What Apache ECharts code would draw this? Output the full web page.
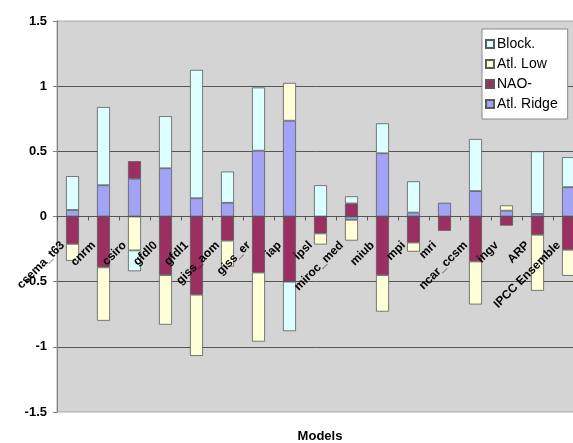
<!DOCTYPE html>
<html>
<head>
<meta charset="utf-8">
<script src="https://cdn.jsdelivr.net/npm/echarts@6/dist/echarts.min.js"></script>
<style>
html,body{margin:0;padding:0;background:#fff;}
#c{width:573px;height:443px;}
</style>
</head>
<body>
<div id="c"></div>
<script>
var categories = ['csema_t63','cnrm','csiro','gfdl0','gfdl1','giss_aom','giss_er','iap','ipsl','miroc_med','miub','mpi','mri','ncar_ccsm','ingv','ARP','IPCC Ensemble'];
var atlRidge = [0.05, 0.24, 0.29, 0.37, 0.14, 0.105, 0.505, 0.735, null, -0.025, 0.485, 0.03, 0.105, 0.195, 0.045, 0.02, 0.225];
var naoMinus = [-0.21, -0.39, 0.135, -0.45, -0.60, -0.185, -0.43, -0.50, -0.13, 0.10, -0.45, -0.20, -0.11, -0.345, -0.07, -0.14, -0.255];
var atlLow = [-0.13, -0.41, -0.26, -0.38, -0.47, -0.20, -0.53, 0.29, -0.085, -0.16, -0.28, -0.07, null, -0.33, 0.04, -0.43, -0.20];
var block = [0.26, 0.60, -0.16, 0.40, 0.985, 0.24, 0.485, -0.38, 0.24, 0.055, 0.23, 0.24, null, 0.40, null, 0.48, 0.23];
var yTicks = {min: -1.5, max: 1.5, interval: 0.5};
var legendOrder = ['Block.', 'Atl. Low', 'NAO-', 'Atl. Ridge'];

var FONT = '"Liberation Sans", Arial, sans-serif';
var chart = echarts.init(document.getElementById('c'), null, {renderer: 'canvas'});

function mk(name, data, color) {
  return {
    name: name, type: 'bar', stack: 'all', data: data, barWidth: 13,
    itemStyle: {color: color, borderColor: '#5a5a5a', borderWidth: 0.8},
    emphasis: {disabled: true}
  };
}

chart.setOption({
  animation: false,
  backgroundColor: '#ffffff',
  grid: {left: 57, top: 21, right: -11, bottom: 31, show: true, containLabel: false, outerBoundsMode: 'none',
         backgroundColor: '#d4d4d4', borderColor: '#a8a8a8', borderWidth: 1},
  legend: {
    data: legendOrder, orient: 'vertical', left: 482, top: 29,
    itemWidth: 8, itemHeight: 8, itemGap: 6,
    padding: [8, 10, 8, 3],
    backgroundColor: '#ffffff', borderColor: '#888888', borderWidth: 1,
    textStyle: {fontFamily: FONT, fontSize: 14, color: '#000', padding: [0,0,0,-2]},
    icon: 'rect'
  },
  xAxis: {
    type: 'category', data: categories, z: 10,
    offset: -195.5,
    axisLine: {onZero: false, lineStyle: {color: '#555', width: 1}},
    axisTick: {show: true, length: 4, lineStyle: {color: '#555'}},
    axisLabel: {rotate: 45, margin: 17, interval: 0, padding: [0, 14, 0, 0], fontFamily: FONT, fontSize: 12, fontWeight: 'bold', color: '#000'}
  },
  yAxis: {
    type: 'value', min: yTicks.min, max: yTicks.max, interval: yTicks.interval,
    axisLine: {show: true, lineStyle: {color: '#808080'}},
    axisTick: {show: true, length: 4, lineStyle: {color: '#808080'}},
    axisLabel: {margin: 10, fontFamily: FONT, fontSize: 13, fontWeight: 'bold', color: '#000'},
    splitLine: {show: true, showMinLine: false, showMaxLine: false, lineStyle: {color: '#555', width: 1}}
  },
  graphic: [{
    type: 'text', x: 320, y: 436,
    style: {text: 'Models', textAlign: 'center', textVerticalAlign: 'middle', fontFamily: FONT, fontSize: 13, fontWeight: 'bold', fill: '#000'}
  }],
  series: [
    mk('Atl. Ridge', atlRidge, '#a3a3f5'),
    mk('NAO-', naoMinus, '#9b2f62'),
    mk('Atl. Low', atlLow, '#ffffd8'),
    mk('Block.', block, '#dcffff')
  ]
});
</script>
</body>
</html>
